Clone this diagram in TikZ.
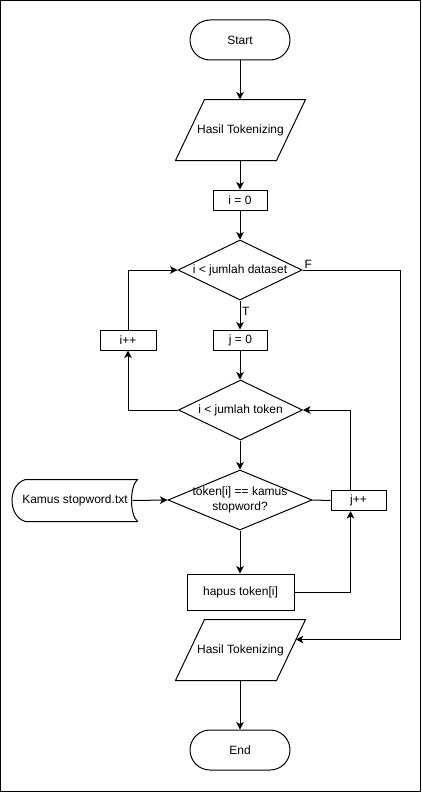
\documentclass[tikz,border=0pt]{standalone}
\usepackage{fontspec}
\setmainfont{Liberation Sans}
\usetikzlibrary{shapes.geometric,shapes.misc,arrows.meta,calc}
\begin{document}
\begin{tikzpicture}[x=1pt,y=-1pt,
  font=\fontsize{12}{15}\selectfont, line width=1pt,
  arr/.style={-{Stealth[length=7.5pt,width=7.5pt,inset=2pt]}},
  term/.style={rounded rectangle, draw, minimum width=100pt, minimum height=40pt, inner sep=0pt},
  io/.style={rectangle, minimum width=129pt, minimum height=60pt, inner sep=0pt},
  proc/.style={rectangle, draw, minimum width=54pt, minimum height=20pt, inner sep=0pt},
  dec/.style={diamond, draw, minimum width=124pt, minimum height=60pt, inner sep=0pt},
  lbl/.style={inner sep=1.5pt}]
\useasboundingbox (0,0) rectangle (421,792);
\draw (0.5,0.5) rectangle (420.5,791.5);

\node[term] (start) at (240,40) {Start};
\node[io] (p1) at (240.5,130) {Hasil Tokenizing};
\draw (p1.north east) -- ($(p1.south east)+(-29,0)$) -- (p1.south west) -- ($(p1.north west)+(29,0)$) -- cycle;
\node[proc] (i0) at (240,200) {i = 0};
\node[dec] (d1) at (240,270) {\makebox[0pt]{i < jumlah dataset}};
\node[proc] (j0) at (240.5,340) {j = 0};
\node[proc, minimum width=56pt] (ipp) at (128,340) {i++};
\node[dec] (d2) at (240.5,410) {\makebox[0pt]{i < jumlah token}};
\node[dec, minimum width=144pt] (d3) at (240,500) {\makebox[0pt]{\begin{tabular}{@{}c@{}}token[i] == kamus\\stopword?\end{tabular}}};
\node[proc, minimum width=55pt] (jpp) at (358.5,500.5) {j++};
\node[proc, minimum width=107pt, minimum height=36pt] (hap) at (240.5,592) {hapus token[i]};
\node[inner sep=0pt, minimum width=126pt, minimum height=41pt] (kamus) at (74,500.5) {\hspace{2pt}Kamus stopword.txt};
\draw ($(kamus.north west)+(15,0)$) -- (kamus.north east)
  .. controls ($(kamus.north east)+(-8,7)$) and ($(kamus.south east)+(-8,-7)$) .. (kamus.south east)
  -- ($(kamus.south west)+(15,0)$)
  .. controls ($(kamus.south west)+(-3,-5)$) and ($(kamus.north west)+(-3,5)$) .. cycle;
\node[io] (p2) at (240.5,650) {Hasil Tokenizing};
\draw (p2.north east) -- ($(p2.south east)+(-29,0)$) -- (p2.south west) -- ($(p2.north west)+(29,0)$) -- cycle;
\node[term] (end) at (240,750) {End};

\coordinate (fin) at ($(p2.north east)+(-9.7,20)$);

\draw[arr] (start.south) -- (p1.north -| start.south);
\draw[arr] (p1.south -| start.south) -- (i0.north);
\draw[arr] (i0.south) -- (d1.north);
\draw[arr] (d1.south) -- node[lbl, right, pos=0.38] {T} (j0.north -| d1.south);
\draw[arr] (d1.east) node[lbl, anchor=south west] {F} -- ++(98,0) |- (fin);
\draw[arr] (j0.south -| d1.south) -- (d2.north -| d1.south);
\draw[arr] (d2.west) -| (ipp.south);
\draw[arr] (ipp.north) |- (d1.west);
\draw[arr] (d2.south -| d1.south) -- (d3.north);
\draw[arr] ($(kamus.east)+(-5,0)$) -- (d3.west);
\draw (d3.east) -- (jpp.west);
\draw[arr] ($(jpp.north)+(-8,0)$) |- (d2.east);
\draw[arr] (d3.south) -- (hap.north -| d3.south);
\draw[arr] (hap.east) -| ($(jpp.south)+(-8,0)$);
\draw[arr] (p2.south -| d3.south) -- (end.north);
\end{tikzpicture}
\end{document}
